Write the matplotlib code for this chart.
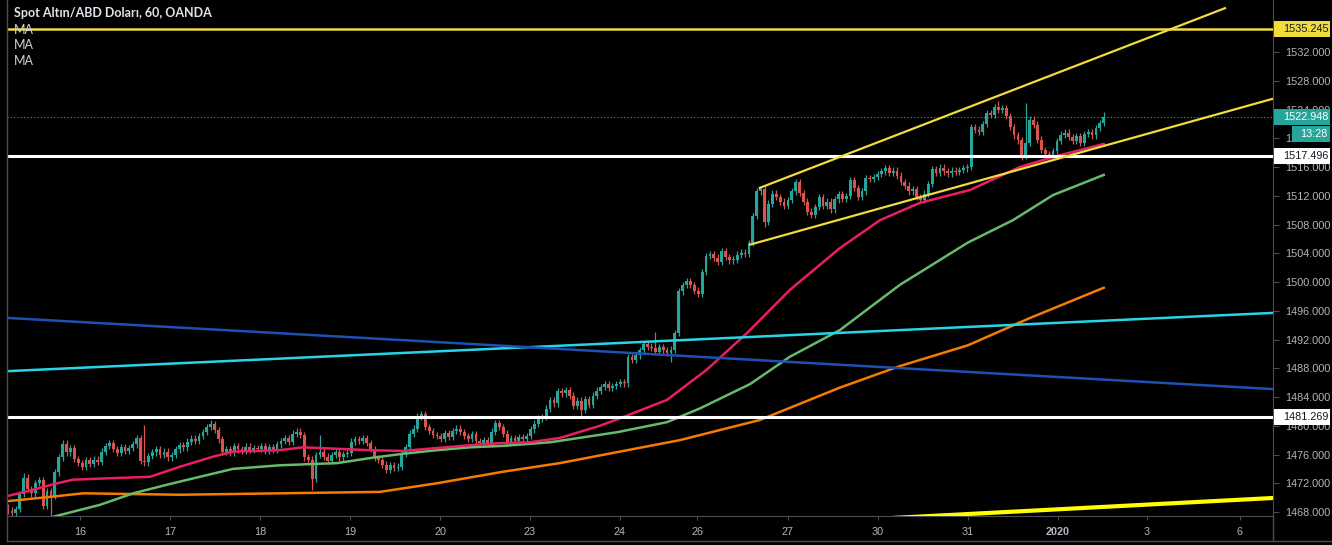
import numpy as np
import matplotlib.pyplot as plt
from matplotlib.patches import Rectangle
from matplotlib.lines import Line2D
from matplotlib.transforms import IdentityTransform

plt.rcParams['font.family'] = ['Liberation Sans', 'DejaVu Sans']

# hourly closes, one list per trading day (bar 0 = first visible bar)
d15 = [1468.2, 1467.9, 1468.4, 1470.5, 1472.8, 1471.2, 1470.6, 1472.0, 1472.4, 1468.8,
       1470.9, 1470.2, 1473.5, 1475.6, 1477.5, 1476.3, 1476.9, 1475.4]
d16 = [1474.8, 1474.3, 1475.2, 1474.7, 1475.3, 1475.0, 1476.4, 1477.2, 1477.6, 1476.8,
       1476.2, 1477.0, 1476.5, 1476.9, 1477.4, 1478.3, 1475.1, 1474.9, 1475.8, 1476.3,
       1476.8, 1476.0, 1476.4]
d17 = [1475.6, 1475.9, 1476.7, 1477.3, 1477.0, 1477.8, 1478.2, 1477.9, 1478.6, 1479.1,
       1479.8, 1480.2, 1479.4, 1478.1, 1476.4, 1476.8, 1476.3, 1477.2, 1476.7, 1476.5,
       1477.1, 1476.6, 1476.9]
d18 = [1476.8, 1477.2, 1476.5, 1477.0, 1476.6, 1477.4, 1477.9, 1478.3, 1477.8, 1478.9,
       1479.2, 1478.7, 1475.6, 1475.3, 1472.6, 1475.9, 1476.4, 1475.7, 1475.1, 1475.9,
       1476.3, 1475.6, 1476.1]
d19 = [1476.2, 1477.8, 1478.1, 1477.9, 1478.3, 1477.6, 1476.8, 1475.5, 1475.2, 1474.6,
       1473.9, 1474.5, 1474.1, 1474.3, 1476.1, 1477.0, 1478.9, 1479.6, 1481.3, 1481.6,
       1479.8, 1479.3, 1478.7]
d20 = [1478.6, 1478.2, 1479.0, 1478.5, 1479.3, 1479.6, 1479.1, 1478.6, 1478.2, 1478.8,
       1477.9, 1477.6, 1478.0, 1477.5, 1479.2, 1480.4, 1479.8, 1478.9, 1477.7, 1478.3,
       1477.9, 1478.4, 1478.1]
d23 = [1478.6, 1479.5, 1480.3, 1481.0, 1481.2, 1482.4, 1483.6, 1483.1, 1484.8, 1484.5,
       1485.0, 1484.2, 1482.8, 1483.5, 1482.2, 1483.7, 1482.9, 1484.2, 1484.9, 1485.4,
       1485.8, 1485.3, 1485.5]
d24 = [1485.8, 1486.1, 1485.9, 1489.6, 1489.2, 1489.8, 1490.5, 1491.4, 1491.0, 1490.8,
       1490.3, 1490.9, 1490.5, 1490.1, 1490.6, 1492.9, 1498.7, 1499.6, 1500.1, 1499.6]
d26 = [1498.8, 1498.3, 1501.4, 1503.6, 1503.9, 1503.4, 1502.8, 1504.3, 1503.5, 1503.0,
       1503.1, 1503.8, 1504.1, 1503.9, 1505.4, 1509.2, 1512.6, 1512.9, 1508.4, 1510.9,
       1512.3, 1511.8, 1511.2]
d27 = [1510.6, 1511.4, 1512.6, 1513.9, 1512.4, 1511.2, 1509.8, 1509.3, 1510.4, 1511.8,
       1510.6, 1511.2, 1510.1, 1511.5, 1512.2, 1511.6, 1512.0, 1514.2, 1513.1, 1511.8,
       1512.6, 1514.5, 1514.3]
d30 = [1514.6, 1515.0, 1515.4, 1515.8, 1515.2, 1515.5, 1514.8, 1513.9, 1513.4, 1512.6,
       1512.9, 1511.8, 1511.4, 1512.3, 1513.6, 1515.7, 1515.2, 1515.9, 1515.4, 1515.1,
       1515.5, 1515.3, 1515.6]
d31 = [1515.8, 1516.0, 1521.6, 1521.2, 1520.9, 1522.0, 1523.5, 1523.2, 1524.3, 1524.0,
       1524.2, 1523.1, 1521.6, 1520.4, 1519.7, 1517.6, 1519.4, 1522.6, 1521.9, 1519.8,
       1518.4, 1517.8, 1517.5]
d02 = [1518.2, 1519.6, 1520.5, 1520.8, 1520.2, 1519.6, 1520.3, 1519.4, 1520.6, 1520.9,
       1520.4, 1521.4, 1522.1, 1522.948]
first_open = 1468.6

# bars with a long wick
hi_bars = [4, 35, 52, 80, 166, 254, 261, 281]
hi_vals = [1473.4, 1480.1, 1480.8, 1478.7, 1493.0, 1525.2, 1524.9, 1523.6]
lo_bars = [11, 78, 147, 170, 194, 260]
lo_vals = [1467.0, 1471.0, 1481.1, 1488.9, 1507.6, 1517.0]

# moving averages (bar position, value)
ma_fast_x = [-0.3, 6.4, 12.6, 16.7, 26.2, 36.4, 44.1, 52.6, 57.7, 69.7, 75.6, 84.4, 92.8,
             101.3, 110, 118.5, 126.9, 133.8, 141.5, 151.8, 158.2, 169, 179.2, 189.5,
             200.5, 213.3, 223.6, 233.8, 246.7, 259.5, 268, 281]
ma_fast = [1470.2, 1471.1, 1472.0, 1472.5, 1472.7, 1472.9, 1474.3, 1475.7, 1476.4, 1476.6,
           1477.0, 1476.8, 1476.6, 1476.5, 1476.9, 1477.3, 1477.6, 1477.7, 1478.3, 1480.0,
           1481.3, 1483.6, 1487.8, 1492.9, 1498.9, 1504.7, 1508.6, 1511.0, 1512.8, 1516.0,
           1517.4, 1519.2]
ma_mid_x = [11.3, 23.6, 32.1, 40.8, 49.2, 57.7, 69.7, 84.4, 92.8, 101.3, 110, 118.5, 126.9,
            139, 156.2, 169, 177.4, 190.3, 200.5, 213.3, 228.7, 246.2, 257.7, 268, 281]
ma_mid = [1467.3, 1469.0, 1470.6, 1471.8, 1472.9, 1474.0, 1474.5, 1474.8, 1475.5, 1476.1,
          1476.6, 1477.0, 1477.2, 1477.7, 1479.1, 1480.5, 1482.4, 1485.8, 1489.6, 1493.3,
          1499.6, 1505.5, 1508.6, 1512.1, 1514.9]
ma_slow_x = [-0.3, 10.8, 19.2, 44.1, 69.7, 95.4, 110, 126.9, 141.5, 156.9, 172.3, 192.8,
             213.3, 228.7, 246.2, 262.1, 281]
ma_slow = [1469.5, 1470.1, 1470.6, 1470.4, 1470.6, 1470.8, 1472.0, 1473.6, 1474.8, 1476.4,
           1478.0, 1480.8, 1485.3, 1488.3, 1491.2, 1495.0, 1499.2]

# drawn levels and trend lines
levels = [1535.245, 1517.496, 1481.269]
last_price = 1522.948
chan_up_x, chan_up_y = [192.8, 312.1], [1513.1, 1538.1]
chan_lo_x, chan_lo_y = [190.3, 324.4], [1505.2, 1525.5]
cyan_x, cyan_y = [0, 324.4], [1487.6, 1495.7]
blue_x, blue_y = [0, 324.4], [1495.0, 1485.1]
low_x, low_y = [200, 324.4], [1466.4, 1469.95]

day_labels = ['16', '17', '18', '19', '20', '23', '24', '26', '27', '30', '31', '2020', '3', '6']
day_pos = [18.5, 41.5, 64.6, 87.7, 110.8, 133.8, 156.9, 176.7, 200.0, 223.1, 246.2, 269.2,
           292.1, 315.9]
price_ticks = list(range(1468, 1533, 4))

W, H = 1332, 545
BG = '#000000'
UP, DOWN = '#26a69a', '#d9534f'
AXC = '#4a4d57'
TXT = '#b2b5be'
FS = 7.8

closes = np.array(d15 + d16 + d17 + d18 + d19 + d20 + d23 + d24 + d26 + d27 + d30 + d31 + d02)
opens = np.concatenate([[first_open], closes[:-1]])
highs = np.maximum(opens, closes) + 0.45
lows = np.minimum(opens, closes) - 0.45
for b, v in zip(hi_bars, hi_vals):
    highs[b] = max(highs[b], v)
for b, v in zip(lo_bars, lo_vals):
    lows[b] = min(lows[b], v)
idx = np.arange(len(closes))

fig = plt.figure(figsize=(W / 100, H / 100), dpi=100, facecolor=BG)
ax = fig.add_axes([7 / W, 29 / H, (1273 - 7) / W, 516 / H], facecolor=BG)
ax.set_xlim(-0.26, 324.4)
ax.set_ylim(1467.444, 1539.235)

# candles
up = closes >= opens
cols = np.where(up, UP, DOWN)
ax.vlines(idx, lows, highs, colors=cols, lw=0.9, zorder=2)
body = np.maximum(np.abs(closes - opens), 0.15)
ax.bar(idx, body, bottom=np.minimum(opens, closes), width=0.72, color=cols, lw=0, zorder=2)

# moving averages
ax.plot(ma_slow_x, ma_slow, color='#f57c00', lw=1.8, zorder=3)
ax.plot(ma_mid_x, ma_mid, color='#66bb6a', lw=1.8, zorder=3)
ax.plot(ma_fast_x, ma_fast, color='#e91e63', lw=1.8, zorder=3)

# drawings
ax.axhline(levels[0], color='#f0dc3c', lw=1.8, zorder=4)
ax.axhline(levels[1], color='#ffffff', lw=2.2, zorder=4)
ax.axhline(levels[2], color='#ffffff', lw=2.2, zorder=4)
ax.axhline(last_price, color=UP, lw=0.8, ls=(0, (1, 2)), zorder=4)
ax.plot(chan_up_x, chan_up_y, color='#f0dc3c', lw=1.6, zorder=4)
ax.plot(chan_lo_x, chan_lo_y, color='#f0dc3c', lw=1.6, zorder=4)
ax.plot(cyan_x, cyan_y, color='#26d6e8', lw=1.8, zorder=4)
ax.plot(blue_x, blue_y, color='#1e50b4', lw=1.8, zorder=4)
ax.plot(low_x, low_y, color='#ffff00', lw=3, zorder=4)

# axes styling
for s in ['top', 'left']:
    ax.spines[s].set_visible(False)
ax.spines['bottom'].set_color(AXC)
ax.spines['right'].set_color(AXC)
ax.yaxis.tick_right()
ax.set_yticks(price_ticks)
ax.set_yticklabels(['%.3f' % p for p in price_ticks])
ax.tick_params(axis='y', colors=AXC, labelcolor=TXT, labelsize=FS, length=4, pad=5)
ax.set_xticks(day_pos)
ax.set_xticklabels(day_labels)
ax.tick_params(axis='x', colors=AXC, labelcolor=TXT, labelsize=FS, length=3, pad=5)
for lab in ax.get_xticklabels():
    if lab.get_text() == '2020':
        lab.set_fontweight('bold')

fig.add_artist(Line2D([7, 7], [4, H], color=AXC, lw=1, transform=IdentityTransform()))
fig.add_artist(Line2D([7, W], [4, 4], color=AXC, lw=1, transform=IdentityTransform()))
fig.add_artist(Line2D([1273, 1273], [4, 29], color=AXC, lw=1, transform=IdentityTransform()))


def price_tag(price, text, bg, fg, x0=1274, h=16):
    yc = ax.transData.transform((0, price))[1]
    fig.add_artist(Rectangle((x0, yc - h / 2), W - x0 - 2, h, transform=IdentityTransform(),
                             facecolor=bg, edgecolor='none', zorder=10))
    fig.text((x0 + 9) / W, yc / H, text, color=fg, fontsize=FS, va='center', ha='left', zorder=11)


fig.canvas.draw()
price_tag(levels[0], '%.3f' % levels[0], '#f0dc3c', '#131722')
price_tag(last_price, '%.3f' % last_price, UP, '#ffffff')
price_tag(levels[1], '%.3f' % levels[1], '#ffffff', '#131722')
price_tag(levels[2], '%.3f' % levels[2], '#ffffff', '#131722')
yc = ax.transData.transform((0, last_price))[1] - 17
fig.add_artist(Rectangle((1292, yc - 8), 38, 16, transform=IdentityTransform(),
                         facecolor=UP, edgecolor='none', zorder=10))
fig.text(1300 / W, yc / H, '13:28', color='#ffffff', fontsize=FS, va='center', zorder=11)

# legend text
fig.text(14 / W, 1 - 13 / H, 'Spot Altın/ABD Doları, 60, OANDA', color='#e0e3eb',
         fontsize=9, fontweight='bold', family=['Lato', 'DejaVu Sans'], va='center', zorder=1)
for yy in [30, 45, 61]:
    fig.text(14 / W, 1 - yy / H, 'MA', color='#d1d4dc', fontsize=9,
             family=['Lato', 'DejaVu Sans'], va='center', zorder=1)

fig.savefig('out.png', dpi=100, facecolor=BG)
